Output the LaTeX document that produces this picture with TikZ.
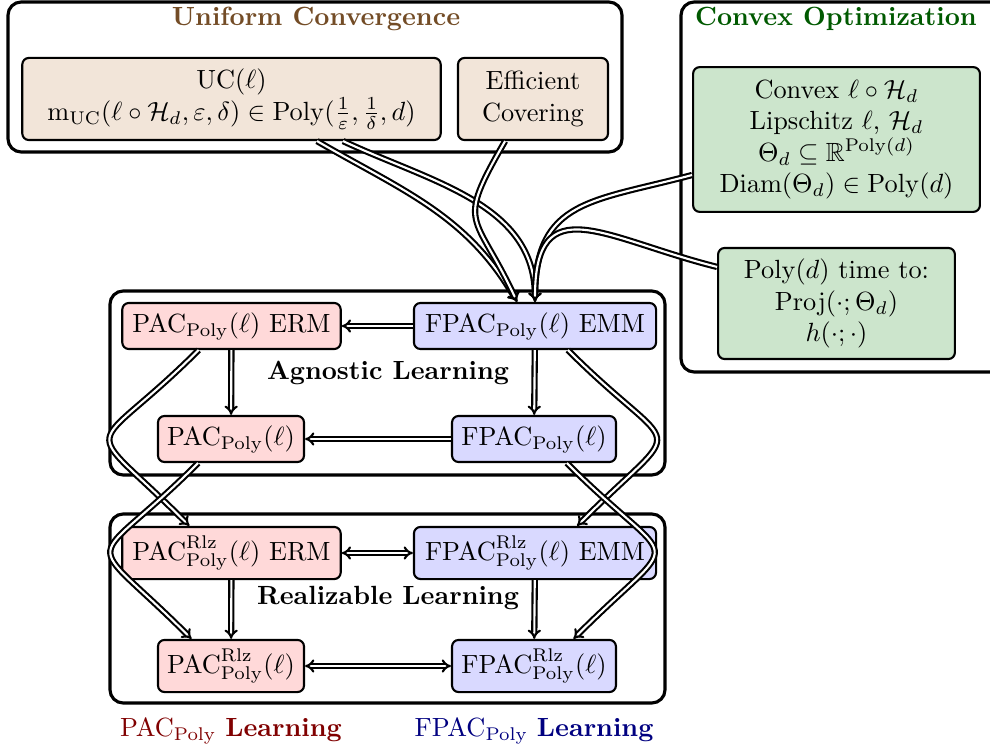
\documentclass[tikz,border=0pt]{standalone}
\usepackage{amsmath}
\usepackage{amssymb}
\usepackage{xcolor}
\usepackage{tikz}
\usetikzlibrary{positioning,arrows.meta,shapes}

\begin{document}
\begin{tikzpicture}[
    x=0.38pt, y=0.38pt,
    groupbox/.style={draw=black, very thick, rounded corners=5pt},
    grouptitle/.style={font=\bfseries},
    pacnode/.style={rectangle, rounded corners=2.5pt, draw=black, thick, fill=red!15, minimum height=17.5pt, inner sep=2pt},
    fpacnode/.style={pacnode, fill=blue!15},
    ucnode/.style={rectangle, rounded corners=2.5pt, draw=black, thick, fill=brown!20, align=center, minimum height=31.2pt},
    cvxnode/.style={rectangle, rounded corners=2.5pt, draw=black, thick, fill=green!50!black!20, align=center},
    imp/.style={-{Implies}, double, double distance=0.8pt, thick},
    iff/.style={{Implies}-{Implies}, double, double distance=0.8pt, thick}
]
\useasboundingbox (0,0) rectangle (990,-755);

% Group frames
\draw[groupbox] (8,-2) rectangle (622,-152);
\draw[groupbox] (681,-2) rectangle (1005,-372);
\draw[groupbox] (110,-291) rectangle (665,-475);
\draw[groupbox] (110,-514) rectangle (665,-703);

% Group titles
\node (uctitle) [grouptitle, text=brown!60!black] at (316,-19) {Uniform Convergence};
\node (cvxtitle) [grouptitle, text=green!35!black] at (836,-19) {Convex Optimization};
\node (agntitle) [grouptitle] at (388,-373) {Agnostic Learning};
\node (rlztitle) [grouptitle] at (388,-598) {Realizable Learning};

% Assumptions
\node (uc) [ucnode, minimum width=159pt] at (231.5,-99) {UC$(\ell)$\\ $\mathrm{m}_{\mathrm{UC}}(\ell\circ\mathcal{H}_d,\varepsilon,\delta)\in\mathrm{Poly}(\frac{1}{\varepsilon},\frac{1}{\delta},d)$};
\node (effcov) [ucnode, minimum width=57pt] at (533,-99) {Efficient\\Covering};
\node (cvx) [cvxnode, minimum width=109pt, minimum height=55pt] at (836.5,-139.5) {Convex $\ell\circ\mathcal{H}_d$\\ Lipschitz $\ell$, $\mathcal{H}_d$\\ $\Theta_d\subseteq\mathbb{R}^{\mathrm{Poly}(d)}$\\ $\mathrm{Diam}(\Theta_d)\in\mathrm{Poly}(d)$};
\node (polytime) [cvxnode, minimum width=90pt, minimum height=42.2pt] at (836.5,-303.5) {Poly$(d)$ time to:\\ $\mathrm{Proj}(\cdot;\Theta_d)$\\ $h(\cdot;\cdot)$};

% Agnostic learning
\node (pacerm) [pacnode, minimum width=83pt] at (231.5,-326) {$\mathrm{PAC}_{\mathrm{Poly}}(\ell)$ ERM};
\node (fpacemm) [fpacnode, minimum width=92pt] at (535,-326) {$\mathrm{FPAC}_{\mathrm{Poly}}(\ell)$ EMM};
\node (pac) [pacnode, minimum width=55.5pt] at (231,-439) {$\mathrm{PAC}_{\mathrm{Poly}}(\ell)$};
\node (fpac) [fpacnode, minimum width=62.3pt] at (534,-439) {$\mathrm{FPAC}_{\mathrm{Poly}}(\ell)$};

% Realizable learning
\node (pacrlzerm) [pacnode, minimum width=83pt, minimum height=19.8pt] at (231.5,-553) {$\mathrm{PAC}^{\mathrm{Rlz}}_{\mathrm{Poly}}(\ell)$ ERM};
\node (fpacrlzemm) [fpacnode, minimum width=92pt, minimum height=19.8pt] at (535,-553) {$\mathrm{FPAC}^{\mathrm{Rlz}}_{\mathrm{Poly}}(\ell)$ EMM};
\node (pacrlz) [pacnode, minimum width=55.5pt, minimum height=19.8pt] at (231,-666) {$\mathrm{PAC}^{\mathrm{Rlz}}_{\mathrm{Poly}}(\ell)$};
\node (fpacrlz) [fpacnode, minimum width=62.3pt, minimum height=19.8pt] at (534,-666) {$\mathrm{FPAC}^{\mathrm{Rlz}}_{\mathrm{Poly}}(\ell)$};

% Column labels
\node (paclabel) [text=red!50!black] at (231,-731) {$\mathrm{PAC}_{\mathrm{Poly}}$ \textbf{Learning}};
\node (fpaclabel) [text=blue!50!black] at (534,-731) {$\mathrm{FPAC}_{\mathrm{Poly}}$ \textbf{Learning}};

% Implications inside groups
\draw[imp] (fpacemm) -- (pacerm);
\draw[imp] (pacerm) -- (pac);
\draw[imp] (fpacemm) -- (fpac);
\draw[imp] (fpac) -- (pac);
\draw[iff] (pacrlzerm) -- (fpacrlzemm);
\draw[imp] (pacrlzerm) -- (pacrlz);
\draw[imp] (fpacrlzemm) -- (fpacrlz);
\draw[iff] (pacrlz) -- (fpacrlz);

% Agnostic to realizable
\draw[imp] ([xshift=-12.5pt]pacerm.south) to[out=-135, in=135, looseness=2.3] ([xshift=-16pt]pacrlzerm.north);
\draw[imp] ([xshift=-12.5pt]pac.south) to[out=-135, in=135, looseness=2.3] ([xshift=-15pt]pacrlz.north);
\draw[imp] ([xshift=12.5pt]fpacemm.south) to[out=-45, in=45, looseness=2.3] ([xshift=16pt]fpacrlzemm.north);
\draw[imp] ([xshift=12.5pt]fpac.south) to[out=-45, in=45, looseness=2.3] ([xshift=15pt]fpacrlz.north);

% Assumptions to FPAC EMM
\draw[imp] ([xshift=32.5pt]uc.south) to[out=-30, in=120] ([xshift=-6.8pt]fpacemm.north);
\draw[imp] ([xshift=42.4pt]uc.south) to[out=-25, in=90] (fpacemm.north);
\draw[imp] ([xshift=-10.6pt]effcov.south) to[out=-120, in=115, looseness=1.6] ([xshift=-6.8pt]fpacemm.north);
\draw[imp] ([yshift=-13.5pt]cvx.west) to[out=195, in=90, looseness=1.3] (fpacemm.north);
\draw[imp] ([yshift=13.9pt]polytime.west) to[out=166, in=90, looseness=1.6] (fpacemm.north);

\end{tikzpicture}
\end{document}
